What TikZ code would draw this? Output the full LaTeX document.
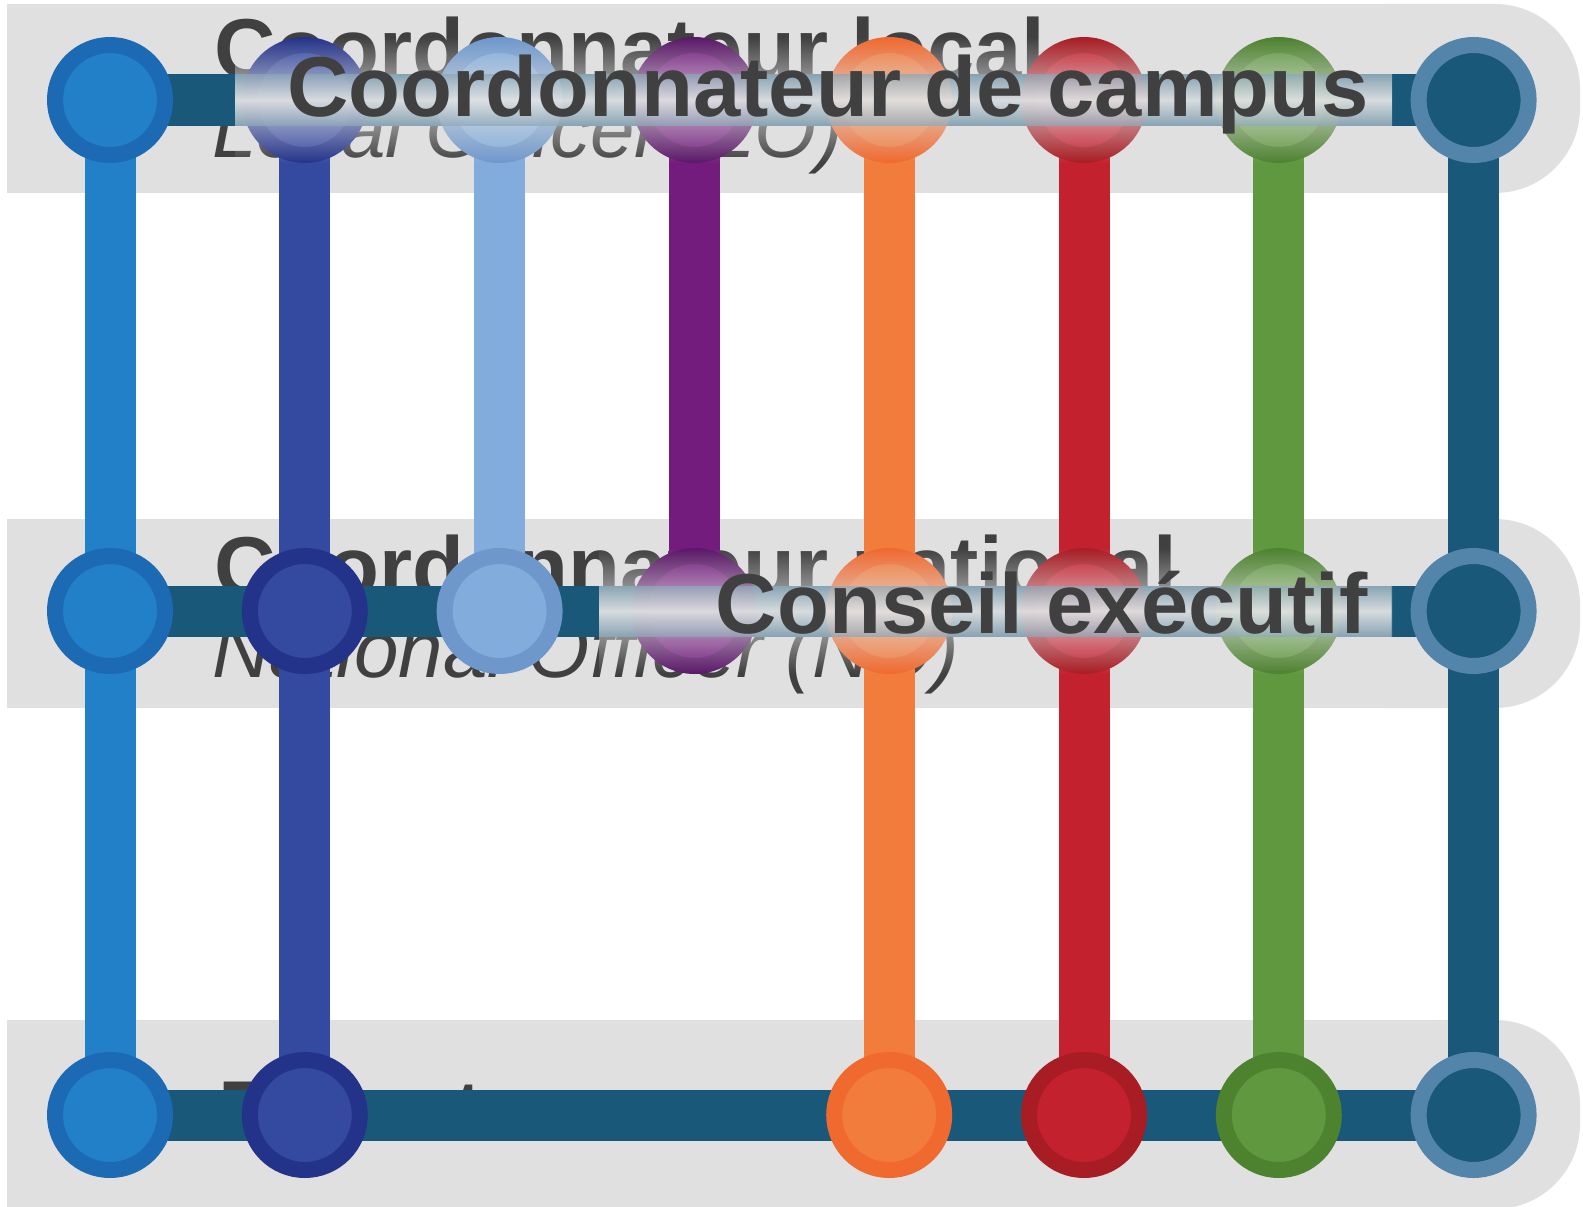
\documentclass[tikz,border=0pt]{standalone}
\usepackage{fontspec}
\setmainfont{Liberation Sans}
\usetikzlibrary{positioning,fadings}

\definecolor{bandgray}{HTML}{E0E0E0}
\definecolor{textgray}{HTML}{404040}
\definecolor{steelgray}{HTML}{8FA9B8}
\definecolor{boxmid}{HTML}{E2E4E5}
\definecolor{navyline}{HTML}{1A5879}
\definecolor{navyring}{HTML}{5384AA}
\definecolor{blueline}{HTML}{2180C8}
\definecolor{bluering}{HTML}{1B6AB3}
\definecolor{indigoline}{HTML}{3449A0}
\definecolor{indigoring}{HTML}{24338A}
\definecolor{skyline}{HTML}{82ACDB}
\definecolor{skyring}{HTML}{6E98CC}
\definecolor{plumline}{HTML}{731C7E}
\definecolor{plumring}{HTML}{5A1767}
\definecolor{orangeline}{HTML}{F27C3C}
\definecolor{orangering}{HTML}{F0692E}
\definecolor{redline}{HTML}{C4212F}
\definecolor{redring}{HTML}{A81C23}
\definecolor{greenline}{HTML}{609840}
\definecolor{greenring}{HTML}{4D822F}

\tikzfading[name=fade label, top color=transparent!100, bottom color=transparent!100, middle color=transparent!20]

\pgfdeclarelayer{background}
\pgfsetlayers{background,main}

\begin{document}
\begin{tikzpicture}[x=1pt, y=-1pt,
	rail/.style={line width=51pt},
	stop/.style={circle, line width=16pt, minimum size=110pt, inner sep=0pt},
	bluestop/.style={stop, draw=bluering, fill=blueline},
	indigostop/.style={stop, draw=indigoring, fill=indigoline},
	skystop/.style={stop, draw=skyring, fill=skyline},
	plumstop/.style={stop, draw=plumring, fill=plumline},
	orangestop/.style={stop, draw=orangering, fill=orangeline},
	redstop/.style={stop, draw=redring, fill=redline},
	greenstop/.style={stop, draw=greenring, fill=greenline},
	navystop/.style={stop, draw=navyring, fill=navyline},
	head/.style={anchor=base west, inner sep=0pt, text=textgray, font=\bfseries\fontsize{85pt}{85pt}\selectfont},
	sub/.style={anchor=base west, inner sep=0pt, text=textgray, font=\itshape\fontsize{80pt}{80pt}\selectfont},
	tag/.style={anchor=base east, inner sep=0pt, text=textgray, font=\bfseries\fontsize{85pt}{85pt}\selectfont},
	veil/.style={fill=bandgray, path fading=fade label},
	tagbox/.style={top color=steelgray, bottom color=steelgray, middle color=boxmid, opacity=0.75}]
	\useasboundingbox (0,0) rectangle (1583,1207);

	\begin{pgfonlayer}{background}
	% bands
	\fill[bandgray] (7,4) rectangle (1450,193);
	\fill[bandgray, rounded corners=85pt] (1300,4) rectangle (1580,193);
	\fill[bandgray] (7,519) rectangle (1450,708);
	\fill[bandgray, rounded corners=85pt] (1300,519) rectangle (1580,708);
	\fill[bandgray] (7,1020) rectangle (1450,1209);
	\fill[bandgray, rounded corners=85pt] (1300,1020) rectangle (1580,1209);
	% row headings
	\node[head] (localhead) at (214,78) {Coordonnateur local};
	\node[sub] (localsub) at (212,157) {Local Officer (LO)};
	\node[head] (nathead) at (214,596) {Coordonnateur national};
	\node[sub] (natsub) at (212,677) {National Officer (NO)};
	\node[head] (parenthead) at (218,1140) {Parent};
	\end{pgfonlayer}

	% local row
	\node[bluestop] (l1) at (110,100) {};
	\node[indigostop] (l2) at (304.8,100) {};
	\node[skystop] (l3) at (499.6,100) {};
	\node[plumstop] (l4) at (694.4,100) {};
	\node[orangestop] (l5) at (889.2,100) {};
	\node[redstop] (l6) at (1084,100) {};
	\node[greenstop] (l7) at (1278.8,100) {};
	\node[navystop] (l8) at (1473.6,100) {};
	% national row
	\node[bluestop] (n1) at (110,611) {};
	\node[indigostop] (n2) at (304.8,611) {};
	\node[skystop] (n3) at (499.6,611) {};
	\node[plumstop] (n4) at (694.4,611) {};
	\node[orangestop] (n5) at (889.2,611) {};
	\node[redstop] (n6) at (1084,611) {};
	\node[greenstop] (n7) at (1278.8,611) {};
	\node[navystop] (n8) at (1473.6,611) {};
	% parent row
	\node[bluestop] (p1) at (110,1115) {};
	\node[indigostop] (p2) at (304.8,1115) {};
	\node[orangestop] (p5) at (889.2,1115) {};
	\node[redstop] (p6) at (1084,1115) {};
	\node[greenstop] (p7) at (1278.8,1115) {};
	\node[navystop] (p8) at (1473.6,1115) {};

	\begin{pgfonlayer}{background}
	\draw[rail, blueline] (l1.center) -- (p1.center);
	\draw[rail, indigoline] (l2.center) -- (p2.center);
	\draw[rail, skyline] (l3.center) -- (n3.center);
	\draw[rail, plumline] (l4.center) -- (n4.center);
	\draw[rail, orangeline] (l5.center) -- (p5.center);
	\draw[rail, redline] (l6.center) -- (p6.center);
	\draw[rail, greenline] (l7.center) -- (p7.center);
	\draw[rail, navyline] (l8.center) -- (p8.center);
	\draw[rail, navyline] (l1.center) -- (l8.center);
	\draw[rail, navyline] (n1.center) -- (n8.center);
	\draw[rail, navyline] (p1.center) -- (p8.center);
	\end{pgfonlayer}

	% labels on the rails
	\fill[veil] (235,37) rectangle (1392,163);
	\shade[tagbox] (235,75) rectangle (1392,125);
	\node[tag] (campus) at (1369,117) {Coordonnateur de campus};
	\fill[veil] (599,548) rectangle (1392,674);
	\shade[tagbox] (599,586) rectangle (1392,636);
	\node[tag] (conseil) at (1368,633) {Conseil exécutif};
\end{tikzpicture}
\end{document}
